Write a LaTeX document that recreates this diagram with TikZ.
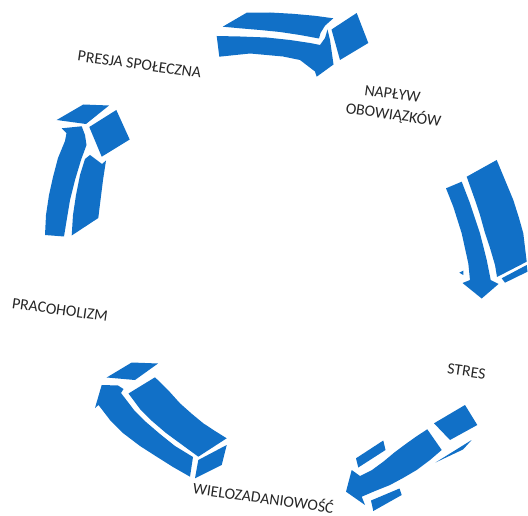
\documentclass[tikz,border=0pt]{standalone}
\usepackage{fontspec}
\setmainfont{Carlito}
\definecolor{arrowblue}{RGB}{17,112,199}
\definecolor{lblgray}{RGB}{38,38,38}
\tikzset{
  face/.style={fill=arrowblue, draw=none},
  lbl/.style={font=\fontsize{15.8}{20}\selectfont, text=lblgray, inner sep=0pt, rotate=-8, align=center}
}
\begin{document}
\begin{tikzpicture}[x=1pt,y=-1pt]
\useasboundingbox (0,0) rectangle (528,516);
% ---------- top arrow ----------
\fill[face] (222.7,26.7) -- (246.7,12.7) -- (270,12.5) -- (293,13.8) -- (315,15.8) -- (333.3,18.3) -- (325,25.7) -- (320.5,33) -- (319,38.5) -- (300,35) -- (280,32) -- (260,30) -- (240,28.3) -- cycle;
\fill[face] (216.7,36) -- (240,36.5) -- (266.7,37.5) -- (290,40) -- (310,43) -- (320,45) -- (325,38) -- (327.5,29.5) -- (330,40) -- (333.5,64.5) -- (316.7,76.7) -- (315,71.5) -- (300,60) -- (283,56.5) -- (250,53.5) -- (219.3,56.7) -- cycle;
\fill[face] (331.5,29.5) -- (356.7,13) -- (368.3,43) -- (340,60) -- cycle;
% ---------- right arrow ----------
\fill[face] (446,188.3) -- (461.7,181.7) -- (470,203.3) -- (480,233.3) -- (486.7,260) -- (490.7,280) -- (498.5,284) -- (481.7,298.5) -- (462.5,283) -- (470,280) -- (468.3,263.3) -- (461.7,233.3) -- (453.3,206.7) -- cycle;
\fill[face] (466.7,176.7) -- (496.7,160) -- (505,180) -- (513.3,200) -- (519,218) -- (523.3,233.3) -- (526.7,261.7) -- (497,277) -- (495,265) -- (490,248) -- (485,233) -- (480,215) -- (475,200) -- (470,186) -- cycle;
\fill[face] (501.7,278.3) -- (526.7,265) -- (527.5,271.7) -- (505,282.7) -- cycle;
\fill[face] (459.3,272.7) -- (463.3,270.7) -- (463.3,275) -- cycle;
% ---------- bottom-right arrow ----------
\fill[face] (434,423.3) -- (465,405) -- (477.3,425) -- (450,440) -- cycle;
\fill[face] (435.5,462.5) -- (471.7,440) -- (463,449.5) -- cycle;
\fill[face] (427.3,429.3) -- (441.7,450) -- (430,460) -- (416.7,470) -- (403,478) -- (390,485) -- (375,491) -- (361.7,496.7) -- (365,505) -- (346,491.7) -- (351.7,470) -- (360,476) -- (372,470) -- (383.3,461.7) -- (395,452) -- (406.7,443.3) -- (417,436) -- cycle;
\fill[face] (356,458.3) -- (383.3,440.5) -- (385.5,450) -- (358.3,467.5) -- cycle;
\fill[face] (371,500.5) -- (399.5,488.5) -- (401.7,495) -- (373.3,511) -- cycle;
% ---------- bottom-left arrow ----------
\fill[face] (106.7,377.5) -- (131.7,362.5) -- (158,363.5) -- (135,380) -- cycle;
\fill[face] (101.7,385) -- (118,385.5) -- (123.5,389) -- (121,393) -- (134,410) -- (146,422) -- (160,434) -- (175,446) -- (193,457) -- (190,476.7) -- (173,467) -- (156.7,456.7) -- (140,446) -- (123.3,433.3) -- (110,420) -- (98.5,405) -- (95,408) -- cycle;
\fill[face] (128.5,393.5) -- (155,377.3) -- (168,390) -- (180,403.3) -- (192,414) -- (203.3,423.3) -- (215,431) -- (226.7,438.3) -- (198.3,456.7) -- (181,444) -- (166,433) -- (152,421) -- (140,409) -- cycle;
\fill[face] (198.3,460) -- (226.7,445) -- (221.7,465) -- (195,478.3) -- cycle;
% ---------- left arrow ----------
\fill[face] (56.7,120) -- (83.3,104.5) -- (109,105.5) -- (86,124) -- cycle;
\fill[face] (89.3,127) -- (116.3,110) -- (129.7,139.5) -- (101.7,156.7) -- cycle;
\fill[face] (61.7,128.3) -- (81.7,126.3) -- (85,135) -- (86.5,145) -- (81,160) -- (75,180) -- (70,200) -- (67,218) -- (64,236.5) -- (45,235) -- (46,215) -- (49,195) -- (53,177) -- (58,158) -- (65,141) -- (66.5,133) -- cycle;
\fill[face] (85,159) -- (90,155) -- (102,164) -- (106,160.5) -- (103,180) -- (100.5,200) -- (98.3,218) -- (71.7,235.5) -- (73,215) -- (76,195) -- (80,175) -- cycle;
% ---------- labels ----------
\node[lbl] (presja) at (139.5,64.5) {PRESJA SPOŁECZNA};
\node[lbl] (naplyw) at (392.5,94) {NAPŁYW};
\node[lbl] (obow) at (393.5,114.5) {OBOWIĄZKÓW};
\node[lbl] (stres) at (466.5,371.5) {STRES};
\node[lbl] (wielo) at (263.5,497) {WIELOZADANIOWOŚĆ};
\node[lbl] (praco) at (60,310) {PRACOHOLIZM};
\end{tikzpicture}
\end{document}
